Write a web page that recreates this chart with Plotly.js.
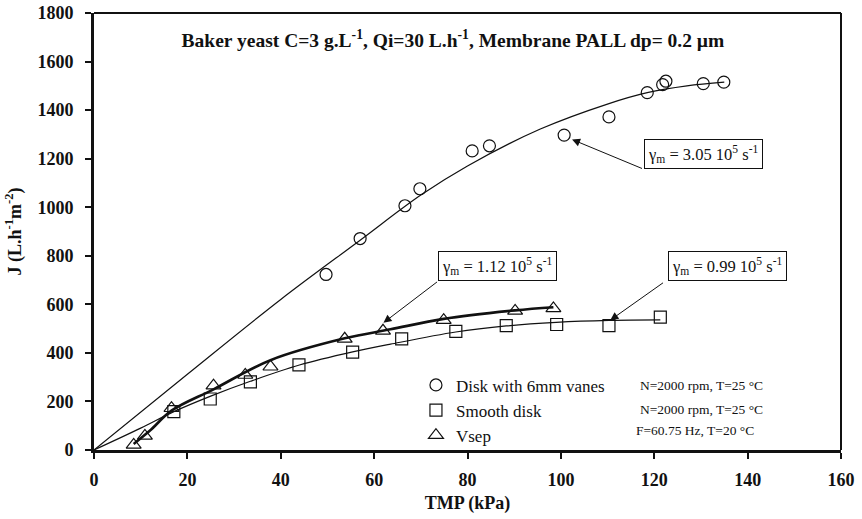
<!DOCTYPE html>
<html>
<head>
<meta charset="utf-8">
<script src="https://cdn.plot.ly/plotly-3.0.1.min.js"></script>
<style>
  html, body { margin: 0; padding: 0; background: #fff; }
  #chart { width: 862px; height: 519px; }
</style>
</head>
<body>
<div id="chart"></div>
<script>
// Permeate flux J versus transmembrane pressure for three rotating/vibrating modules
const vanesTMP = [49.7, 57.0, 66.6, 69.8, 81.0, 84.7, 100.7, 110.3, 118.5, 121.8, 122.5, 130.5, 134.9];
const vanesJ   = [723, 871, 1006, 1076, 1232, 1253, 1297, 1372, 1472, 1505, 1519, 1509, 1515];

const smoothTMP = [17.1, 24.9, 33.5, 43.9, 55.4, 65.9, 77.5, 88.3, 99.1, 110.3, 121.3];
const smoothJ   = [158, 210, 281, 351, 403, 458, 489, 512, 517, 512, 547];

const vsepTMP = [8.5, 10.9, 16.6, 25.6, 32.4, 37.8, 53.7, 61.9, 74.9, 90.2, 98.4];
const vsepJ   = [21, 58, 172, 265, 309, 343, 458, 491, 535, 573, 583];

// Fitted trend curves
const vanesFitTMP = [0, 20, 40, 57, 70, 80, 95.6, 110.3, 118.5, 127, 135];
const vanesFitJ   = [0, 312, 620, 864, 1050, 1170, 1322, 1427, 1472, 1500, 1515];

const smoothFitTMP = [0, 10, 17.1, 25, 33.5, 44, 55.4, 63.5, 77.5, 88.3, 99, 110.3, 121.3];
const smoothFitJ   = [0, 90, 158, 222, 283, 350, 404, 436, 486, 511, 526, 534, 536];

const vsepFitTMP = [8.5, 12, 16.6, 25.6, 37.8, 53.7, 63.5, 74.9, 90.2, 98.4];
const vsepFitJ   = [25, 80, 162, 250, 370, 460, 497, 540, 575, 588];

// Axis tick values and labels
const xTickVals = [0, 20, 40, 60, 80, 100, 120, 140, 160];
const xTickText = ['0', '20', '40', '60', '80', '100', '120', '140', '160'];
const yTickVals = [0, 200, 400, 600, 800, 1000, 1200, 1400, 1600, 1800];
const yTickText = ['0', '200', '400', '600', '800', '1000', '1200', '1400', '1600', '1800'];

const seriesNames = ['Disk with 6mm vanes', 'Smooth disk', 'Vsep'];
const conditions  = ['N=2000 rpm, T=25 °C', 'N=2000 rpm, T=25 °C', 'F=60.75 Hz, T=20 °C'];

// Shear-rate callouts: label, arrow head (TMP, J), arrow tail (TMP, J), box centre (TMP, J)
const shearLabels = ['3.05', '1.12', '0.99'];
const shearHead   = [[102.4, 1279], [62.0, 524], [110.6, 535]];
const shearTail   = [[117.7, 1157], [73.8, 697], [122.2, 693]];
const shearBox    = [[130.5, 1218], [86.5, 759], [135.6, 759]];

const serif = 'Liberation Serif, Times New Roman, serif';
const ink = '#111';

function openMarker(symbol, size) {
  return { symbol: symbol, size: size, color: ink, line: { color: ink, width: 1.2 } };
}

const traces = [
  { x: vanesFitTMP, y: vanesFitJ, mode: 'lines', line: { color: ink, width: 1.2, shape: 'spline', smoothing: 1 }, showlegend: false, hoverinfo: 'skip' },
  { x: smoothFitTMP, y: smoothFitJ, mode: 'lines', line: { color: ink, width: 1.2, shape: 'spline', smoothing: 1 }, showlegend: false, hoverinfo: 'skip' },
  { x: vsepFitTMP, y: vsepFitJ, mode: 'lines', line: { color: ink, width: 2.6, shape: 'spline', smoothing: 1 }, showlegend: false, hoverinfo: 'skip' },
  { x: vanesTMP, y: vanesJ, mode: 'markers', name: seriesNames[0], marker: openMarker('circle-open', 12) },
  { x: smoothTMP, y: smoothJ, mode: 'markers', name: seriesNames[1], marker: openMarker('square-open', 12) },
  { x: vsepTMP, y: vsepJ, mode: 'markers', name: seriesNames[2], marker: openMarker('triangle-up-open', 13) }
];

const annotations = [];
for (let i = 0; i < shearLabels.length; i++) {
  annotations.push({
    x: shearHead[i][0], y: shearHead[i][1], xref: 'x', yref: 'y',
    ax: shearTail[i][0], ay: shearTail[i][1], axref: 'x', ayref: 'y',
    text: '', showarrow: true, arrowhead: 2, arrowsize: 1.6, arrowwidth: 1, arrowcolor: ink
  });
  annotations.push({
    x: shearBox[i][0], y: shearBox[i][1], xref: 'x', yref: 'y',
    text: 'γ<sub>m</sub> = ' + shearLabels[i] + ' 10<sup>5</sup> s<sup>-1</sup>',
    showarrow: false, font: { family: serif, size: 16.5, color: ink },
    bordercolor: ink, borderwidth: 1, borderpad: 3, bgcolor: '#fff'
  });
}
const condY = [265, 167, 80];
const condX = [116.5, 116.5, 115.7];
for (let i = 0; i < conditions.length; i++) {
  annotations.push({
    x: condX[i], y: condY[i], xref: 'x', yref: 'y', xanchor: 'left', yanchor: 'middle',
    text: conditions[i], showarrow: false, font: { family: serif, size: 13.5, color: ink }
  });
}

const layout = {
  width: 862, height: 519,
  margin: { l: 93.5, r: 21, t: 12.5, b: 69 },
  paper_bgcolor: '#fff', plot_bgcolor: '#fff',
  font: { family: serif, color: ink },
  title: {
    text: '<b>Baker yeast C=3 g.L<sup>-1</sup>, Qi=30 L.h<sup>-1</sup>, Membrane PALL dp= 0.2 µm</b>',
    font: { family: serif, size: 19.5, color: ink },
    x: 0.5255, xanchor: 'center', y: 0.923, yanchor: 'middle', xref: 'container', yref: 'container'
  },
  xaxis: {
    range: [0, 160], tickmode: 'array', tickvals: xTickVals,
    ticktext: xTickText.map(t => '<b>' + t + '</b>'),
    showgrid: false, zeroline: false,
    showline: true, linecolor: ink, linewidth: 3,
    ticks: 'outside', ticklen: 6, tickwidth: 2, tickcolor: ink,
    tickfont: { family: serif, size: 18, color: ink },
    ticklabelstandoff: 5,
    title: { text: '<b>TMP (kPa)</b>', font: { family: serif, size: 18, color: ink }, standoff: 8 }
  },
  yaxis: {
    range: [0, 1800], tickmode: 'array', tickvals: yTickVals,
    ticktext: yTickText.map(t => '<b>' + t + '</b>'),
    showgrid: false, zeroline: false,
    showline: true, linecolor: ink, linewidth: 3,
    ticks: 'outside', ticklen: 6, tickwidth: 2, tickcolor: ink,
    tickfont: { family: serif, size: 18, color: ink },
    ticklabelstandoff: 8,
    title: { text: '<b>J (L.h<sup>-1</sup>m<sup>-2</sup>)</b>', font: { family: serif, size: 18, color: ink }, standoff: 12 }
  },
  showlegend: true,
  legend: {
    x: 0.431, y: 0.189, xanchor: 'left', yanchor: 'top',
    bgcolor: 'rgba(0,0,0,0)', borderwidth: 0,
    font: { family: serif, size: 17, color: ink },
    itemwidth: 30, tracegroupgap: 0
  },
  shapes: [
    { type: 'line', xref: 'paper', yref: 'paper', x0: 0, x1: 1, y0: 1, y1: 1, line: { color: ink, width: 2 } },
    { type: 'line', xref: 'paper', yref: 'paper', x0: 1, x1: 1, y0: 0, y1: 1, line: { color: ink, width: 2 } }
  ],
  annotations: annotations
};

Plotly.newPlot('chart', traces, layout, { displayModeBar: false, staticPlot: true });
</script>
</body>
</html>
